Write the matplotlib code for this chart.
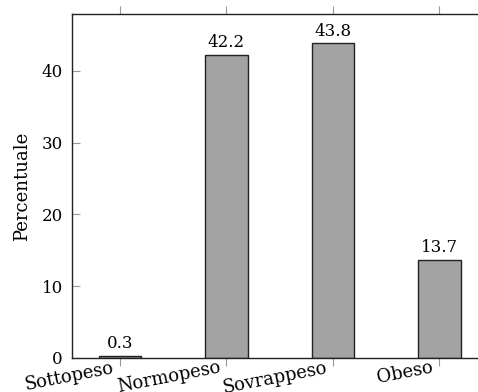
import matplotlib
matplotlib.use("Agg")
import matplotlib.pyplot as plt
from matplotlib.transforms import ScaledTranslation

categories = ["Sottopeso", "Normopeso", "Sovrappeso", "Obeso"]
values = [0.3, 42.2, 43.8, 13.7]
yticks = [0, 10, 20, 30, 40]

plt.rcParams['font.family'] = ['DejaVu Serif']
fig = plt.figure(figsize=(4.78, 3.92), dpi=100)
ax = fig.add_axes([72/478, 1-358/392, 410/478, 344/392])
x = list(range(len(categories)))
ax.bar(x, values, width=0.40, color='#a3a3a3', edgecolor='#222222', linewidth=1.0)
for xi, v in zip(x, values):
    ax.text(xi, v + 0.5, f"{v}", ha='center', va='bottom', fontsize=12)
ax.set_xlim(-0.45, 3.4)
ax.set_ylim(0, 47.9)
ax.set_yticks(yticks)
ax.set_xticks(x)
ax.set_xticklabels(categories, rotation=11, ha='right', va='top', rotation_mode='anchor', fontsize=13)
ax.tick_params(axis='y', direction='in', length=6, color='#999999', labelsize=12, pad=6.5)
ax.tick_params(axis='x', direction='out', length=6, color='#999999', top=True, pad=-5.5)
off = ScaledTranslation(-8/100, 0, fig.dpi_scale_trans)
for lab in ax.get_xticklabels():
    lab.set_transform(lab.get_transform() + off)
ax.set_ylabel("Percentuale", fontsize=13, labelpad=8)
ax.spines['right'].set_visible(False)
for s in ['left', 'bottom', 'top']:
    ax.spines[s].set_color('#222222')
    ax.spines[s].set_linewidth(1.0)
fig.savefig("out.png", dpi=100)
